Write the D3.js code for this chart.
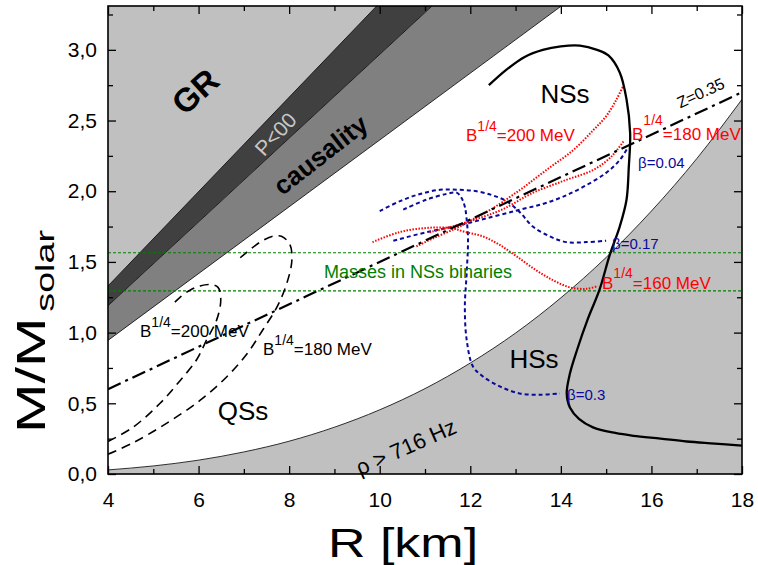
<!DOCTYPE html>
<html><head><meta charset="utf-8">
<script src="https://cdn.jsdelivr.net/npm/d3@7"></script>
<style>body{margin:0;background:#fff;} svg{display:block;font-family:Arial,"Liberation Sans",sans-serif;}</style>
</head><body><svg id="chart" width="758" height="565"></svg>
<script>
// ---------- data ----------
const xTicks = [4, 6, 8, 10, 12, 14, 16, 18];
const xMinor = [5, 7, 9, 11, 13, 15, 17];
const yTicks = [0, 0.5, 1.0, 1.5, 2.0, 2.5, 3.0];
const yMinor = [0.25, 0.75, 1.25, 1.75, 2.25, 2.75, 3.25];

// straight boundaries (R, M) pairs
const grLine = [[4, 1.33], [12, 4.0]];
const pNegLine = [[4, 1.19], [12, 3.56]];
const causalLine = [[4, 0.945], [16, 3.78]];

// rotation limit (716 Hz)
const rotR = [4, 5, 6, 7, 8, 9, 10, 11, 12, 13, 14, 15, 16, 17, 18];
const rotM = [0.029, 0.057, 0.098, 0.156, 0.232, 0.331, 0.454, 0.604, 0.785, 0.997, 1.246, 1.532, 1.86, 2.23, 2.65];

// binary masses band
const binaryMasses = [1.295, 1.565];

// redshift z = 0.35
const zR = [4, 18];
const zM = [0.6, 2.7];

// neutron stars
const nsR = [12.41, 12.8, 13.2, 13.6, 14.0, 14.42, 14.8, 15.05, 15.3, 15.45, 15.53, 15.5, 15.45, 15.3, 15.08, 14.85, 14.6, 14.35, 14.2, 14.13, 14.2, 14.4, 14.71, 15.2, 15.6, 16.2, 16.78, 17.4, 18];
const nsM = [2.75, 2.86, 2.95, 3.0, 3.025, 3.03, 3.0, 2.96, 2.84, 2.65, 2.41, 2.17, 1.94, 1.75, 1.55, 1.3, 1.1, 0.87, 0.71, 0.57, 0.47, 0.39, 0.33, 0.29, 0.27, 0.25, 0.23, 0.215, 0.2];

// quark stars
const qs200R = [4.0, 4.55, 5.15, 5.59, 5.96, 6.18, 6.4, 6.49, 6.43, 6.25, 6.03, 5.81, 5.59, 5.4];
const qs200M = [0.23, 0.33, 0.5, 0.66, 0.81, 0.95, 1.09, 1.23, 1.32, 1.34, 1.33, 1.30, 1.25, 1.19];
const qs180R = [4.0, 4.55, 5.3, 6.03, 6.63, 7.07, 7.42, 7.73, 7.95, 8.06, 8.02, 7.84, 7.62, 7.36, 7.07, 6.85];
const qs180M = [0.14, 0.22, 0.36, 0.52, 0.69, 0.85, 1.02, 1.18, 1.35, 1.51, 1.62, 1.68, 1.68, 1.64, 1.57, 1.51];

// hybrid stars (blue)
const b004R = [10.3, 11.03, 11.77, 12.5, 13.1, 13.6, 14.04, 14.49, 15.0, 15.3, 15.48];
const b004M = [1.65, 1.71, 1.76, 1.82, 1.87, 1.91, 1.96, 2.03, 2.13, 2.22, 2.31];
const b017R = [10.0, 10.45, 10.89, 11.33, 11.75, 12.14, 12.5, 12.8, 13.1, 13.38, 13.76, 14.12, 14.56, 15.0];
const b017M = [1.86, 1.93, 1.98, 2.01, 2.01, 2.0, 1.97, 1.93, 1.85, 1.75, 1.68, 1.64, 1.64, 1.65];
const b03R = [10.52, 11.03, 11.47, 11.7, 11.81, 11.88, 11.92, 11.95, 11.92, 11.88, 11.92, 12.06, 12.28, 12.65, 13.09, 13.54, 13.98];
const b03M = [1.87, 1.94, 1.98, 1.99, 1.95, 1.89, 1.80, 1.66, 1.42, 1.18, 0.95, 0.76, 0.69, 0.62, 0.57, 0.56, 0.57];

// hybrid stars (red, bag constant)
const r200R = [10.81, 11.2, 11.7, 12.1, 12.5, 13.1, 13.68, 14.27, 14.71, 15.0, 15.23, 15.37];
const r200M = [1.61, 1.67, 1.74, 1.81, 1.88, 2.01, 2.15, 2.29, 2.43, 2.53, 2.65, 2.74];
const r180R = [11.1, 11.6, 12.1, 12.7, 13.39, 14.12, 14.71, 15.1, 15.4];
const r180M = [1.71, 1.75, 1.80, 1.87, 1.99, 2.08, 2.15, 2.24, 2.36];
const r160R = [9.84, 10.43, 11.03, 11.55, 11.91, 12.28, 12.65, 13.02, 13.46, 13.83, 14.2, 14.57, 14.82];
const r160M = [1.64, 1.71, 1.74, 1.74, 1.71, 1.68, 1.62, 1.54, 1.44, 1.37, 1.32, 1.31, 1.33];

// ---------- drawing ----------
const svg = d3.select("#chart");
const x = d3.scaleLinear().domain([4, 18]).range([108, 742]);
const y = d3.scaleLinear().domain([0, 3.31]).range([474, 6]);
const [x0, x1] = x.range(), [y0, y1] = y.range();
const zip = (a, b) => a.map((v, i) => [v, b[i]]);

svg.append("defs").append("clipPath").attr("id", "clip")
  .append("rect").attr("x", x0).attr("y", y1).attr("width", x1 - x0).attr("height", y0 - y1);
const plot = svg.append("g").attr("clip-path", "url(#clip)");

const line = d3.line().x(d => x(d[0])).y(d => y(d[1]));
const smooth = d3.line().x(d => x(d[0])).y(d => y(d[1])).curve(d3.curveCatmullRom.alpha(0.5));
const topM = y.domain()[1] + 1, botM = -1;
const at = (ln, R) => ln[0][1] + (ln[1][1] - ln[0][1]) * (R - ln[0][0]) / (ln[1][0] - ln[0][0]);

// background regions
const Rl = 3, Rr = 19;
function bandBelow(ln) { return [[Rl, at(ln, Rl)], [Rr, at(ln, Rr)]]; }
plot.append("path").attr("fill", "#c0c0c0")
  .attr("d", line([[Rl, topM], ...bandBelow(grLine), [Rr, topM]]));
plot.append("path").attr("fill", "#404040")
  .attr("d", line([...bandBelow(grLine), ...bandBelow(pNegLine).reverse()]));
plot.append("path").attr("fill", "#808080")
  .attr("d", line([...bandBelow(pNegLine), ...bandBelow(causalLine).reverse()]));
[grLine, pNegLine, causalLine].forEach(ln => {
  plot.append("path").attr("fill", "none").attr("stroke", "#000").attr("stroke-width", 0.8)
    .attr("d", line(bandBelow(ln)));
});
const rot = zip(rotR, rotM);
const rotCurve = d3.line().x(d => x(d[0])).y(d => y(d[1])).curve(d3.curveMonotoneX);
plot.append("path").attr("fill", "#c0c0c0")
  .attr("d", rotCurve(rot) + "L" + x(18) + "," + y(botM) + "L" + x(4) + "," + y(botM) + "Z");
plot.append("path").attr("fill", "none").attr("stroke", "#000").attr("stroke-width", 0.8)
  .attr("d", rotCurve(rot));

binaryMasses.forEach(m => {
  plot.append("path").attr("fill", "none").attr("stroke", "#008000").attr("stroke-width", 1.1)
    .attr("stroke-dasharray", "3,2").attr("d", line([[4, m], [18, m]]));
});

function curve(R, M, color, width, dash) {
  plot.append("path").attr("fill", "none").attr("stroke", color).attr("stroke-width", width)
    .attr("stroke-dasharray", dash).attr("stroke-linecap", "butt")
    .attr("d", smooth(zip(R, M)));
}
curve(qs200R, qs200M, "#000", 1.6, "9,6");
curve(qs180R, qs180M, "#000", 1.6, "9,6");
curve(b004R, b004M, "#0a0a9a", 2, "4,3");
curve(b017R, b017M, "#0a0a9a", 2, "4,3");
curve(b03R, b03M, "#0a0a9a", 2, "4,3");
curve(r200R, r200M, "#ff0000", 2, "1.5,1.5");
curve(r180R, r180M, "#ff0000", 2, "1.5,1.5");
curve(r160R, r160M, "#ff0000", 2, "1.5,1.5");
plot.append("path").attr("fill", "none").attr("stroke", "#000").attr("stroke-width", 2.2)
  .attr("stroke-dasharray", "14,5,3,5").attr("d", line(zip(zR, zM)));
curve(nsR, nsM, "#000", 2.3, null);

// ---------- labels ----------
function txt(px, py, s, opts = {}) {
  const t = svg.append("text").attr("x", px).attr("y", py).text(s)
    .attr("font-size", opts.size || 14).attr("fill", opts.color || "#000")
    .attr("font-weight", opts.bold ? "bold" : null)
    .attr("text-anchor", opts.anchor || "start");
  if (opts.rot) t.attr("transform", `rotate(${opts.rot},${px},${py})`);
  return t;
}
function bLabel(px, py, val, color, supDy) {
  const t = svg.append("text").attr("x", px).attr("y", py).attr("font-size", 17).attr("fill", color);
  t.append("tspan").text("B");
  t.append("tspan").attr("dy", -supDy).attr("font-size", 14).text("1/4");
  t.append("tspan").attr("dy", supDy).text("=" + val + " MeV");
}
txt(203, 100, "GR", { size: 33, bold: true, anchor: "middle", rot: -42 });
txt(281, 139, "P<00", { size: 21, color: "#c8c8c8", anchor: "middle", rot: -47 });
txt(326, 162, "causality", { size: 26, bold: true, anchor: "middle", rot: -38 });
txt(565, 103, "NSs", { size: 26, anchor: "middle" });
txt(534, 368, "HSs", { size: 26, anchor: "middle" });
txt(243, 420, "QSs", { size: 26, anchor: "middle" });
txt(409, 454, "ρ > 716 Hz", { size: 22, anchor: "middle", rot: -24 });
txt(703, 98, "Z=0.35", { size: 16, anchor: "middle", rot: -25 });
txt(418, 278, "Masses in NSs binaries", { size: 18, color: "#008000", anchor: "middle" });
bLabel(140, 337, "200", "#000", 10);
bLabel(263, 355, "180", "#000", 10);
bLabel(466, 141, "200", "#ff0000", 10);
bLabel(632, 140, "180", "#ff0000", 15);
bLabel(602, 289, "160", "#ff0000", 11);
txt(638, 168, "β=0.04", { size: 15, color: "#0a0a9a" });
txt(612, 249, "β=0.17", { size: 15, color: "#0a0a9a" });
txt(567, 400, "β=0.3", { size: 15, color: "#0a0a9a" });

// ---------- axes ----------
const fmt = d => d3.format(".1f")(d).replace(".", ",");
function axis(gen, tr, vals, size, labels, pad) {
  const g = svg.append("g").attr("transform", tr)
    .call(gen.tickValues(vals).tickSize(-size).tickPadding(pad || 3).tickFormat(labels ? labels : ""));
  g.select(".domain").remove();
  g.selectAll(".tick line").attr("stroke", "#000").attr("stroke-width", 1.3);
  g.selectAll("text").attr("font-size", 21).attr("fill", "#000").attr("font-family", "Arial, 'Liberation Sans', sans-serif");
  return g;
}
axis(d3.axisBottom(x), `translate(0,${y0})`, xTicks, 8, d => d, 18);
axis(d3.axisBottom(x), `translate(0,${y0})`, xMinor, 5);
axis(d3.axisTop(x), `translate(0,${y1})`, xTicks, 8);
axis(d3.axisTop(x), `translate(0,${y1})`, xMinor, 5);
axis(d3.axisLeft(y), `translate(${x0},0)`, yTicks, 8, fmt, 11);
axis(d3.axisLeft(y), `translate(${x0},0)`, yMinor, 5);
axis(d3.axisRight(y), `translate(${x1},0)`, yTicks, 8);
axis(d3.axisRight(y), `translate(${x1},0)`, yMinor, 5);
svg.append("rect").attr("x", x0).attr("y", y1).attr("width", x1 - x0).attr("height", y0 - y1)
  .attr("fill", "none").attr("stroke", "#000").attr("stroke-width", 1.6);

// titles
svg.append("text").attr("transform", "translate(403,557) scale(1.3,1)").attr("text-anchor", "middle")
  .attr("font-size", 40).text("R [km]");
const yt = svg.append("text").attr("transform", "translate(45,433) rotate(-90) scale(1.45,1)")
  .attr("text-anchor", "start").attr("font-size", 41);
yt.append("tspan").text("M/M");
yt.append("tspan").attr("font-size", 26).attr("dx", 4).attr("dy", 9).text("solar");
</script></body></html>
